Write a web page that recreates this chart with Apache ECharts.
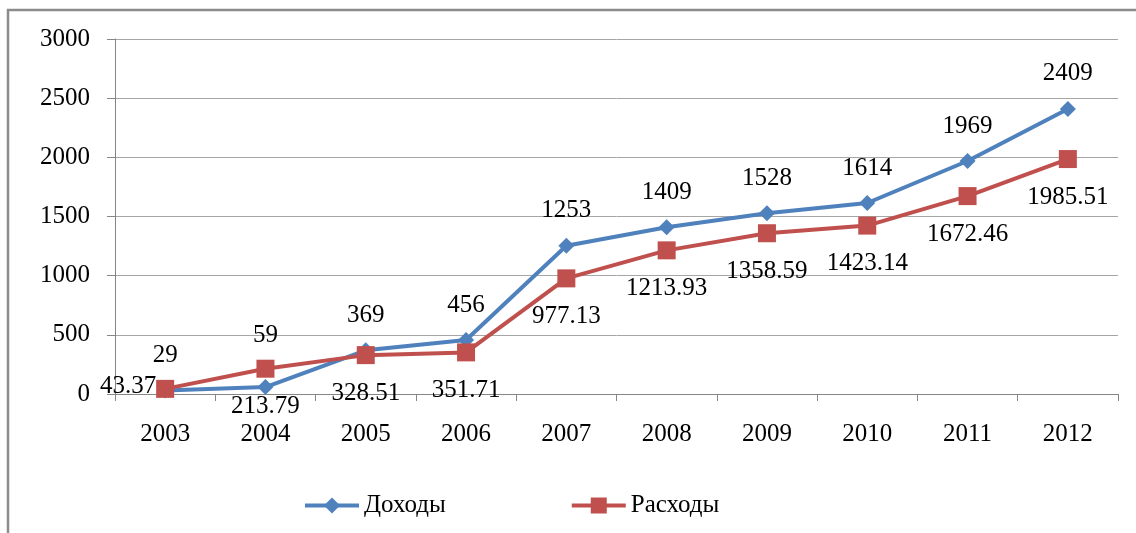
<!DOCTYPE html>
<html>
<head>
<meta charset="utf-8">
<script src="https://cdn.jsdelivr.net/npm/echarts@6/dist/echarts.min.js"></script>
<style>
  html, body { margin: 0; padding: 0; background: #fff; }
  #chart { width: 1136px; height: 533px; }
</style>
</head>
<body>
<div id="chart"></div>
<script>
var years = ['2003', '2004', '2005', '2006', '2007', '2008', '2009', '2010', '2011', '2012'];
var dohody = [29, 59, 369, 456, 1253, 1409, 1528, 1614, 1969, 2409];
var rashody = [43.37, 213.79, 328.51, 351.71, 977.13, 1213.93, 1358.59, 1423.14, 1672.46, 1985.51];
var yTicks = [0, 500, 1000, 1500, 2000, 2500, 3000];

var font = '"Liberation Serif", "Times New Roman", serif';
var fs = 25;

var myChart = echarts.init(document.getElementById('chart'));

// подписи: доходы над точкой, расходы под точкой (2003 - слева)
var dohodyData = dohody.map(function (v, i) {
  return {
    value: v,
    label: { offset: [0, i === 1 ? -52 : -35] }
  };
});
var rashodyData = rashody.map(function (v, i) {
  if (i === 0) {
    return { value: v, label: { offset: [-37, -2] } };
  }
  return { value: v, label: { offset: [0, 38] } };
});

var option = {
  animation: false,
  backgroundColor: '#fff',
  graphic: [{
    type: 'rect',
    shape: { x: 8, y: 10, width: 1200, height: 600 },
    style: { fill: 'none', stroke: '#8c8c8c', lineWidth: 2.5 },
    silent: true
  }],
  grid: {
    left: 115,
    right: 18,
    top: 39,
    bottom: 139
  },
  legend: {
    left: 298,
    top: 488,
    itemWidth: 54,
    itemHeight: 20,
    itemGap: 124,
    lineStyle: { width: 4 },
    textStyle: { fontFamily: font, fontSize: fs, color: '#000' },
    data: ['Доходы', 'Расходы']
  },
  xAxis: {
    type: 'category',
    data: years,
    boundaryGap: true,
    axisLine: { lineStyle: { color: '#868686', width: 1 } },
    axisTick: { show: true, length: 7, lineStyle: { color: '#868686' } },
    axisLabel: { fontFamily: font, fontSize: fs, color: '#000', margin: 28 }
  },
  yAxis: {
    type: 'value',
    min: yTicks[0],
    max: yTicks[yTicks.length - 1],
    interval: 500,
    axisLine: { show: true, lineStyle: { color: '#868686', width: 1 } },
    axisTick: { show: true, length: 8, lineStyle: { color: '#868686' } },
    splitLine: { show: true, lineStyle: { color: '#a6a6a6', width: 1 } },
    axisLabel: {
      fontFamily: font, fontSize: fs, color: '#000', margin: 25,
      formatter: function (v) { return String(v); }
    }
  },
  series: [{
    name: 'Доходы',
    type: 'line',
    data: dohodyData,
    symbol: 'diamond',
    symbolSize: 16,
    lineStyle: { color: '#4f81bd', width: 4 },
    itemStyle: { color: '#4f81bd' },
    label: {
      show: true,
      position: 'inside',
      fontFamily: font,
      fontSize: fs,
      color: '#000'
    },
    z: 2
  }, {
    name: 'Расходы',
    type: 'line',
    data: rashodyData,
    symbol: 'rect',
    symbolSize: 18,
    lineStyle: { color: '#c0504d', width: 4 },
    itemStyle: { color: '#c0504d' },
    label: {
      show: true,
      position: 'inside',
      fontFamily: font,
      fontSize: fs,
      color: '#000'
    },
    z: 3
  }]
};

myChart.setOption(option);
</script>
</body>
</html>
